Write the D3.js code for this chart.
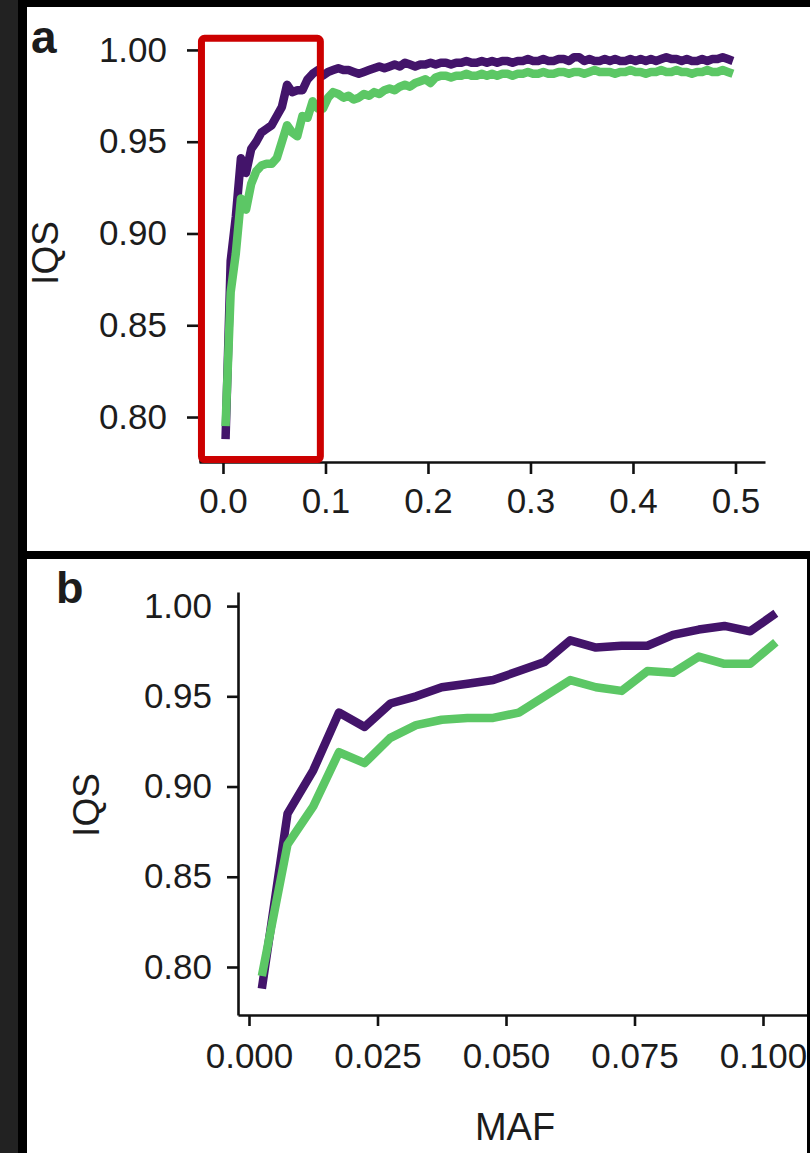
<!DOCTYPE html>
<html>
<head>
<meta charset="utf-8">
<script src="https://cdn.jsdelivr.net/npm/d3@7"></script>
<style>
  body { margin: 0; background: #000; }
  svg text { font-family: "Liberation Sans", Arial, Helvetica, sans-serif; fill: #1c1c1c; }
  .axis path, .axis line { stroke: #111; stroke-width: 2.6px; }
</style>
</head>
<body>
<script>
// panel a: MAF bins 0 - 0.5
const mafA = [
  0.0025, 0.0075, 0.0125, 0.0175, 0.0225, 0.0275, 0.0325, 0.0375, 0.0425, 0.0475,
  0.0525, 0.0575, 0.0625, 0.0675, 0.0725, 0.0775, 0.0825, 0.0875, 0.0925, 0.0975,
  0.1025, 0.1075, 0.1125, 0.1175, 0.1225, 0.1275, 0.1325, 0.1375, 0.1425, 0.1475,
  0.1525, 0.1575, 0.1625, 0.1675, 0.1725, 0.1775, 0.1825, 0.1875, 0.1925, 0.1975,
  0.2025, 0.2075, 0.2125, 0.2175, 0.2225, 0.2275, 0.2325, 0.2375, 0.2425, 0.2475,
  0.2525, 0.2575, 0.2625, 0.2675, 0.2725, 0.2775, 0.2825, 0.2875, 0.2925, 0.2975,
  0.3025, 0.3075, 0.3125, 0.3175, 0.3225, 0.3275, 0.3325, 0.3375, 0.3425, 0.3475,
  0.3525, 0.3575, 0.3625, 0.3675, 0.3725, 0.3775, 0.3825, 0.3875, 0.3925, 0.3975,
  0.4025, 0.4075, 0.4125, 0.4175, 0.4225, 0.4275, 0.4325, 0.4375, 0.4425, 0.4475,
  0.4525, 0.4575, 0.4625, 0.4675, 0.4725, 0.4775, 0.4825, 0.4875, 0.4925, 0.4975
];
const purpleA = [
  0.788, 0.885, 0.909, 0.941, 0.933, 0.946, 0.950, 0.955, 0.957, 0.959,
  0.964, 0.969, 0.981, 0.977, 0.978, 0.978, 0.984, 0.987, 0.989, 0.986,
  0.988, 0.989, 0.990, 0.989, 0.989, 0.988, 0.987, 0.988, 0.989, 0.990,
  0.991, 0.990, 0.991, 0.992, 0.991, 0.993, 0.992, 0.991, 0.992, 0.992,
  0.993, 0.992, 0.993, 0.993, 0.992, 0.993, 0.993, 0.994, 0.993, 0.993,
  0.994, 0.993, 0.994, 0.993, 0.994, 0.994, 0.993, 0.994, 0.994, 0.995,
  0.994, 0.994, 0.995, 0.994, 0.994, 0.995, 0.995, 0.994, 0.996, 0.996,
  0.994, 0.995, 0.994, 0.994, 0.995, 0.994, 0.995, 0.994, 0.994, 0.995,
  0.994, 0.995, 0.994, 0.995, 0.994, 0.995, 0.996, 0.995, 0.995, 0.994,
  0.995, 0.994, 0.994, 0.995, 0.994, 0.995, 0.995, 0.996, 0.995, 0.994
];
const greenA = [
  0.795, 0.868, 0.889, 0.919, 0.913, 0.927, 0.934, 0.937, 0.938, 0.938,
  0.941, 0.950, 0.959, 0.955, 0.953, 0.964, 0.963, 0.972, 0.968, 0.968,
  0.974, 0.977, 0.976, 0.974, 0.975, 0.973, 0.974, 0.976, 0.975, 0.977,
  0.976, 0.978, 0.979, 0.978, 0.980, 0.981, 0.980, 0.982, 0.983, 0.984,
  0.982, 0.985, 0.986, 0.986, 0.985, 0.986, 0.986, 0.987, 0.986, 0.986,
  0.987, 0.986, 0.987, 0.986, 0.987, 0.987, 0.986, 0.987, 0.987, 0.988,
  0.987, 0.987, 0.988, 0.987, 0.987, 0.988, 0.988, 0.987, 0.988, 0.988,
  0.987, 0.988, 0.989, 0.988, 0.988, 0.988, 0.987, 0.988, 0.988, 0.989,
  0.988, 0.988, 0.987, 0.988, 0.988, 0.989, 0.988, 0.988, 0.989, 0.988,
  0.988, 0.987, 0.988, 0.988, 0.989, 0.988, 0.988, 0.989, 0.988, 0.987
];
const xTicksA = [0, 0.1, 0.2, 0.3, 0.4, 0.5];
const yTicksA = [0.80, 0.85, 0.90, 0.95, 1.00];

// panel b: zoom on MAF < 0.1
const mafB = [
  0.0025, 0.0075, 0.0125, 0.0175, 0.0225, 0.0275, 0.0325, 0.0375, 0.0425, 0.0475,
  0.0525, 0.0575, 0.0625, 0.0675, 0.0725, 0.0775, 0.0825, 0.0875, 0.0925, 0.0975, 0.1025
];
const purpleB = [
  0.788, 0.885, 0.909, 0.941, 0.933, 0.946, 0.950, 0.955, 0.957, 0.959,
  0.964, 0.969, 0.981, 0.977, 0.978, 0.978, 0.984, 0.987, 0.989, 0.986, 0.996
];
const greenB = [
  0.795, 0.868, 0.889, 0.919, 0.913, 0.927, 0.934, 0.937, 0.938, 0.938,
  0.941, 0.950, 0.959, 0.955, 0.953, 0.964, 0.963, 0.972, 0.968, 0.968, 0.980
];
const xTicksB = [0, 0.025, 0.05, 0.075, 0.1];
const yTicksB = [0.80, 0.85, 0.90, 0.95, 1.00];

const PURPLE = "#43146a";
const GREEN = "#5cc765";

const svg = d3.select("body").append("svg")
    .attr("width", 810)
    .attr("height", 1153);

svg.append("rect").attr("width", 810).attr("height", 1153).attr("fill", "#000");
svg.append("rect").attr("width", 18).attr("height", 1153).attr("fill", "#222");

const panels = [
  {id: "pa", x: 27, y: 7, w: 783, h: 544},
  {id: "pb", x: 27, y: 559, w: 780, h: 594}
];

const defs = svg.append("defs");
panels.forEach((p) => {
  defs.append("clipPath").attr("id", "clip-" + p.id)
    .append("rect").attr("x", p.x).attr("y", p.y).attr("width", p.w).attr("height", p.h);
  svg.append("rect")
      .attr("x", p.x).attr("y", p.y)
      .attr("width", p.w).attr("height", p.h)
      .attr("fill", "#fff");
});

function drawLines(g, x, y, maf, series) {
  const line = d3.line()
      .x((d) => x(d[0]))
      .y((d) => y(d[1]));
  series.forEach((s) => {
    g.append("path")
        .datum(maf.map((m, i) => [m, s.values[i]]))
        .attr("fill", "none")
        .attr("stroke", s.color)
        .attr("stroke-width", 8.5)
        .attr("stroke-linejoin", "round")
        .attr("d", line);
  });
}

// ---- panel a
const gA = svg.append("g").attr("clip-path", "url(#clip-pa)");

const xA = d3.scaleLinear().domain([-0.0234, 0.5288]).range([199, 765]);
const yA = d3.scaleLinear().domain([0.7755, 1.0065]).range([462, 38]);

gA.append("g")
    .attr("class", "axis")
    .attr("transform", "translate(0,462)")
    .call(d3.axisBottom(xA).tickValues(xTicksA).tickSize(12).tickSizeOuter(0)
      .tickPadding(14).tickFormat(d3.format(".1f")))
    .call((a) => a.selectAll("text").style("font-size", "35px"));

gA.append("g")
    .attr("class", "axis")
    .attr("transform", "translate(200,0)")
    .call(d3.axisLeft(yA).tickValues(yTicksA).tickSize(13).tickSizeOuter(0)
      .tickPadding(20).tickFormat(d3.format(".2f")))
    .call((a) => a.selectAll("text").style("font-size", "35px"));

drawLines(gA, xA, yA, mafA, [
  {color: PURPLE, values: purpleA},
  {color: GREEN, values: greenA}
]);

// red box marking the zoomed region shown in b
gA.append("rect")
    .attr("x", xA(-0.021))
    .attr("y", yA(1.0063))
    .attr("width", xA(0.095) - xA(-0.021))
    .attr("height", yA(0.7768) - yA(1.0063))
    .attr("rx", 3)
    .attr("fill", "none")
    .attr("stroke", "#cc0000")
    .attr("stroke-width", 7);

gA.append("text")
    .attr("transform", "translate(58,253) rotate(-90)")
    .style("text-anchor", "middle")
    .style("font-size", "37px")
    .text("IQS");

gA.append("text")
    .attr("x", 31).attr("y", 53)
    .style("font-size", "46px")
    .style("font-weight", "bold")
    .text("a");

// ---- panel b
const gB = svg.append("g").attr("clip-path", "url(#clip-pb)");

const xB = d3.scaleLinear().domain([-0.00214, 0.10856]).range([238, 807]);
const yB = d3.scaleLinear().domain([0.7734, 1.0078]).range([1015, 592]);

gB.append("g")
    .attr("class", "axis")
    .attr("transform", "translate(0,1015)")
    .call(d3.axisBottom(xB).tickValues(xTicksB).tickSize(11).tickSizeOuter(0)
      .tickPadding(17).tickFormat(d3.format(".3f")))
    .call((a) => a.selectAll("text").style("font-size", "35px"));

gB.append("g")
    .attr("class", "axis")
    .attr("transform", "translate(238,0)")
    .call(d3.axisLeft(yB).tickValues(yTicksB).tickSize(11).tickSizeOuter(0)
      .tickPadding(15).tickFormat(d3.format(".2f")))
    .call((a) => a.selectAll("text").style("font-size", "35px"));

drawLines(gB, xB, yB, mafB, [
  {color: PURPLE, values: purpleB},
  {color: GREEN, values: greenB}
]);

gB.append("text")
    .attr("transform", "translate(99,805) rotate(-90)")
    .style("text-anchor", "middle")
    .style("font-size", "37px")
    .text("IQS");

gB.append("text")
    .attr("x", 515).attr("y", 1140)
    .style("text-anchor", "middle")
    .style("font-size", "38px")
    .text("MAF");

gB.append("text")
    .attr("x", 56).attr("y", 603)
    .style("font-size", "45px")
    .style("font-weight", "bold")
    .text("b");
</script>
</body>
</html>
